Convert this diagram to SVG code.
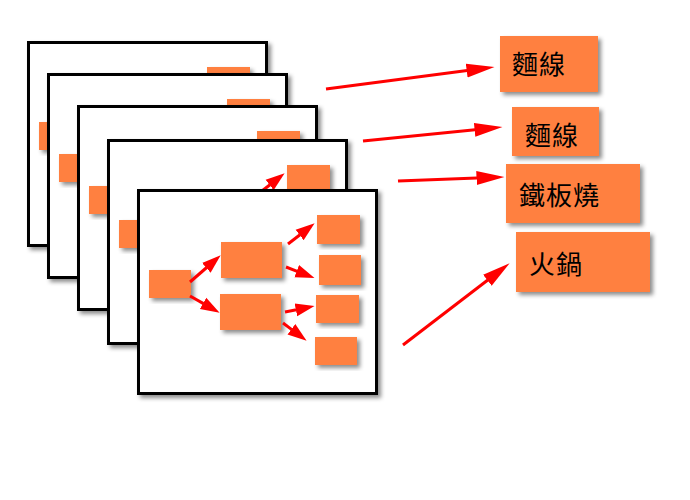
<svg xmlns="http://www.w3.org/2000/svg" xmlns:xlink="http://www.w3.org/1999/xlink" width="690" height="500" viewBox="0 0 690 500">
<style>
.frame{fill:#fff;stroke:#000;stroke-width:3;filter:url(#sh)}
.box{fill:#FF8040;filter:url(#sh)}
.lbl{fill:#FF8040;filter:url(#sh)}
.a{stroke:#F00;stroke-width:3;fill:none}
.s{marker-end:url(#hs)}
.b{marker-end:url(#hb)}
text{font-family:"Noto Sans CJK TC","Noto Sans CJK SC",sans-serif;font-size:26px;fill:#000;letter-spacing:1px}
</style>
<defs>
<filter id="sh" x="-20%" y="-20%" width="140%" height="140%">
<feDropShadow dx="3" dy="3" stdDeviation="2.2" flood-color="#000" flood-opacity="0.45"/>
</filter>
<marker id="hs" markerUnits="userSpaceOnUse" viewBox="0 -8 20 16" markerWidth="20" markerHeight="16" refX="0.5" refY="0" orient="auto">
<path d="M0,-6.5 L19,0 L0,6.5 Z" fill="#F00"/>
</marker>
<marker id="hb" markerUnits="userSpaceOnUse" viewBox="0 -8 30 16" markerWidth="30" markerHeight="16" refX="0.5" refY="0" orient="auto">
<path d="M0,-7 L28,0 L0,7 Z" fill="#F00"/>
</marker>
<g id="slide">
<rect class="frame" x="138.5" y="190.5" width="238" height="203"/>
<rect class="box" x="149" y="270" width="42" height="28"/>
<rect class="box" x="221" y="242" width="61" height="36"/>
<rect class="box" x="220" y="294" width="61" height="36"/>
<rect class="box" x="317" y="215" width="43" height="29"/>
<rect class="box" x="319" y="255" width="42" height="30"/>
<rect class="box" x="316" y="295" width="43" height="28"/>
<rect class="box" x="315" y="337" width="42" height="28"/>
<line class="a s" x1="190" y1="282" x2="206.7" y2="267.5"/>
<line class="a s" x1="190" y1="296" x2="203.5" y2="303.6"/>
<line class="a s" x1="288" y1="244" x2="300" y2="234.7"/>
<line class="a s" x1="286" y1="267" x2="297.2" y2="271.3"/>
<line class="a s" x1="285" y1="312" x2="296.4" y2="309.7"/>
<line class="a s" x1="283" y1="323" x2="291.8" y2="329.6"/>
</g>
</defs>
<g id="slide1"><use xlink:href="#slide" transform="translate(-110,-148)"/></g>
<g id="slide2"><use xlink:href="#slide" transform="translate(-90,-116)"/></g>
<g id="slide3"><use xlink:href="#slide" transform="translate(-60,-84)"/></g>
<g id="slide4"><use xlink:href="#slide" transform="translate(-30,-50)"/></g>
<g id="slide5"><use xlink:href="#slide"/></g>
<g id="connectors">
<line class="a b" x1="326" y1="89" x2="467.2" y2="70.6"/>
<line class="a b" x1="363" y1="141" x2="475.1" y2="129.8"/>
<line class="a b" x1="398" y1="181" x2="477" y2="178"/>
<line class="a b" x1="403" y1="345" x2="487.8" y2="280"/>
</g>
<g id="n-mianxian1"><rect class="lbl" x="500" y="36" width="98" height="56"/><text x="512" y="74">麵線</text></g>
<g id="n-mianxian2"><rect class="lbl" x="512" y="107" width="87" height="49"/><text x="525" y="145">麵線</text></g>
<g id="n-teppanyaki"><rect class="lbl" x="506" y="164" width="134" height="59"/><text x="519" y="205">鐵板燒</text></g>
<g id="n-hotpot"><rect class="lbl" x="516" y="232" width="134" height="60"/><text x="529" y="274">火鍋</text></g>
</svg>
